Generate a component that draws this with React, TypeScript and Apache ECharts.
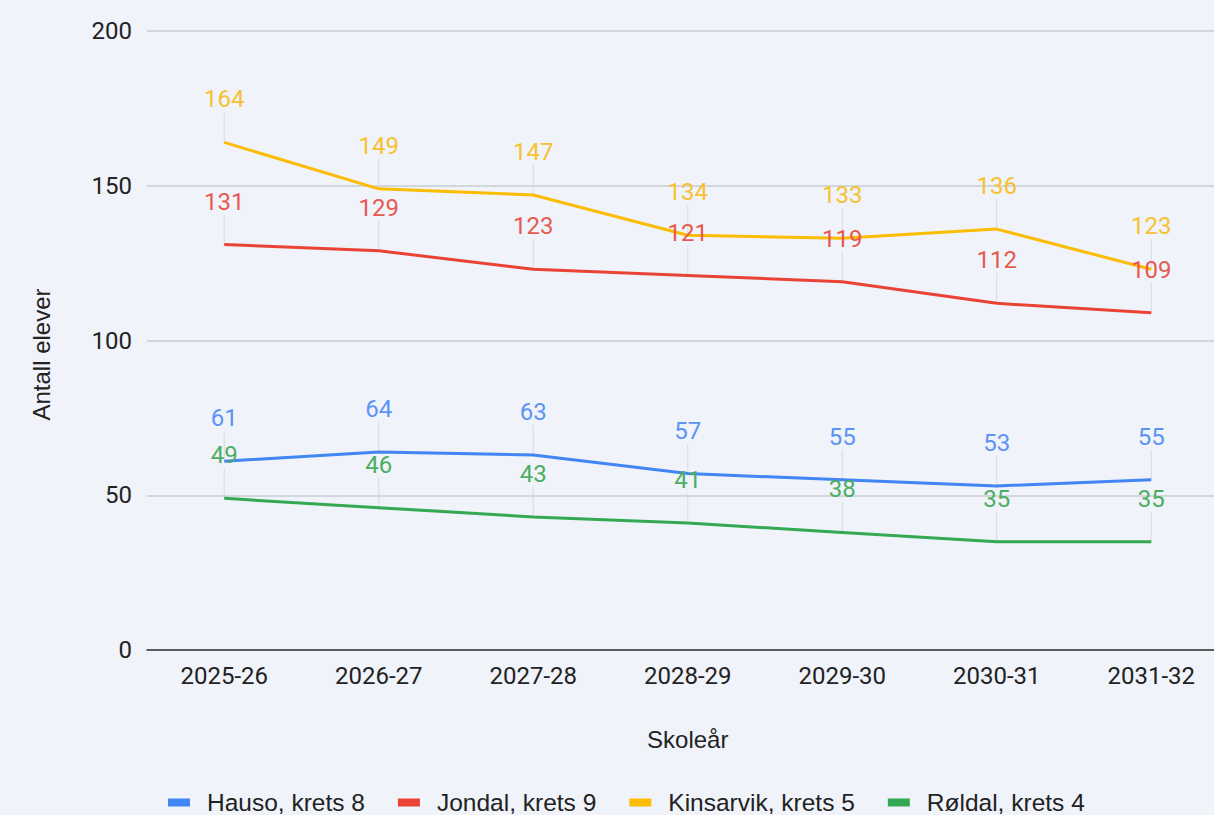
import React, { useEffect, useRef } from "react";
import * as echarts from "echarts";

const categories = ["2025-26", "2026-27", "2027-28", "2028-29", "2029-30", "2030-31", "2031-32"];
const seriesNames = ["Hauso, krets 8", "Jondal, krets 9", "Kinsarvik, krets 5", "Røldal, krets 4"];
const hauso = [61, 64, 63, 57, 55, 53, 55];
const jondal = [131, 129, 123, 121, 119, 112, 109];
const kinsarvik = [164, 149, 147, 134, 133, 136, 123];
const roldal = [49, 46, 43, 41, 38, 35, 35];
const yTicks = { min: 0, max: 200, interval: 50 };

const lineColors = ["#4285f4", "#ea4335", "#fbbc04", "#34a853"];
const labelColors = ["#5c94f5", "#e85a50", "#f7c130", "#4cae62"];

export default function App() {
  const ref = useRef<HTMLDivElement>(null);
  useEffect(() => {
    document.body.style.margin = "0";
    const chart = echarts.init(ref.current!, null, { renderer: "svg" });
    const allData = [hauso, jondal, kinsarvik, roldal];
    const lineSeries = allData.map((d, i) => ({
      name: seriesNames[i],
      type: "line",
      data: d,
      z: 3,
      symbol: "circle",
      symbolSize: 0,
      itemStyle: { color: lineColors[i] },
      lineStyle: { color: lineColors[i], width: 3 },
      label: {
        show: true,
        position: "top",
        distance: 31,
        color: labelColors[i],
        fontSize: 24,
        fontFamily: "Roboto",
      },
      emphasis: { disabled: true },
    }));
    const leaderData: number[][] = [];
    allData.forEach((d) => d.forEach((v, j) => leaderData.push([j, v])));
    const leaderSeries = {
      type: "custom",
      silent: true,
      z: 1,
      data: leaderData,
      renderItem: (_params: any, api: any) => {
        const p = api.coord([api.value(0), api.value(1)]);
        return {
          type: "line",
          shape: { x1: p[0], y1: p[1] - 30, x2: p[0], y2: p[1] },
          style: { stroke: "#d6dae1", lineWidth: 1 },
        };
      },
    };
    chart.setOption({
      animation: false,
      backgroundColor: "#f0f3f9",
      grid: { left: 147, right: -14.5, top: 31, height: 619, outerBoundsMode: "none", containLabel: false },
      legend: {
        data: seriesNames,
        left: 163,
        top: 785,
        icon: "rect",
        itemWidth: 22,
        itemHeight: 8,
        itemGap: 33,
        textStyle: {
          fontSize: 24.5,
          color: "#222",
          fontFamily: "Liberation Sans, Arial",
          padding: [0, 0, 0, 12],
        },
      },
      xAxis: {
        type: "category",
        data: categories,
        boundaryGap: true,
        name: "Skoleår",
        nameLocation: "middle",
        nameGap: 77,
        nameTextStyle: { fontSize: 24, color: "#222", fontFamily: "Liberation Sans, Arial" },
        axisLine: { show: true, lineStyle: { color: "#333", width: 1.5 } },
        axisTick: { show: false },
        axisLabel: { fontSize: 24, color: "#222", margin: 14, fontFamily: "Roboto" },
      },
      yAxis: {
        type: "value",
        min: yTicks.min,
        max: yTicks.max,
        interval: yTicks.interval,
        name: "Antall elever",
        nameLocation: "middle",
        nameGap: 94,
        nameTextStyle: {
          fontSize: 24,
          color: "#222",
          fontFamily: "Liberation Sans, Arial",
          padding: [0, 28, 0, 0],
        },
        axisLine: { show: false },
        axisTick: { show: false },
        axisLabel: { fontSize: 24, color: "#222", margin: 15, fontFamily: "Roboto" },
        splitLine: { lineStyle: { color: "#c9cdd3", width: 1.5 } },
      },
      series: [leaderSeries, ...lineSeries],
    });
    return () => chart.dispose();
  }, []);
  return <div ref={ref} style={{ width: 1214, height: 815 }} />;
}
